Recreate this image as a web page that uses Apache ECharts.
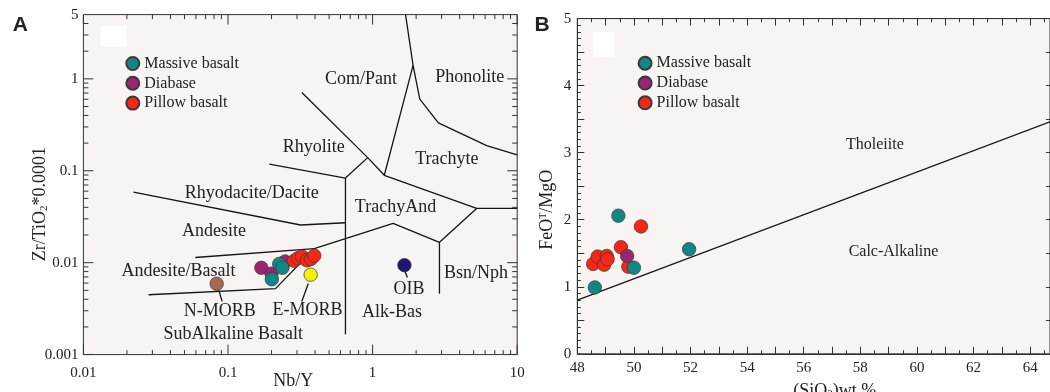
<!DOCTYPE html>
<html><head><meta charset="utf-8">
<script src="https://cdn.jsdelivr.net/npm/echarts@6/dist/echarts.min.js"></script>
<style>html,body{margin:0;padding:0;background:#fff}#c{width:1050px;height:392px}</style>
</head><body><div id="c"></div>
<script>
// ---------- Panel A: Nb/Y vs Zr/TiO2*0.0001 ----------
const massiveA = [[0.201,0.0066],[0.226,0.0097],[0.238,0.0088]];
const diabaseA = [[0.170,0.0088],[0.200,0.0076],[0.248,0.0103]];
const pillowA  = [[0.287,0.0105],[0.305,0.0112],[0.325,0.0117],[0.352,0.0106],[0.375,0.0110],[0.395,0.0119]];
const nmorbA   = [[0.0835,0.0059]];
const emorbA   = [[0.373,0.0074]];
const oibA     = [[1.66,0.0094]];
// field boundaries (Nb/Y, Zr/Ti)
const boundariesA = [
  [[0.0282,0.00448],[0.213,0.00522],[0.395,0.0142],[1.386,0.0268],[2.90,0.01667],[5.24,0.0389],[10,0.0389]],
  [[0.0594,0.01138],[0.395,0.0142]],
  [[2.90,0.01667],[2.90,0.00460]],
  [[5.24,0.0389],[1.205,0.0893],[0.925,0.139],[0.324,0.711]],
  [[1.205,0.0893],[1.905,1.40],[1.69,5]],
  [[1.905,1.40],[2.12,0.601],[2.85,0.332],[6.15,0.188],[10,0.149]],
  [[0.649,0.0833],[0.925,0.139]],
  [[0.649,0.0833],[0.649,0.00166]],
  [[0.193,0.118],[0.649,0.0833]],
  [[0.0222,0.0585],[0.318,0.0257],[0.649,0.0272]]
];
const leadersA = [
  [[0.0866,0.0050],[0.0910,0.00379]],
  [[0.359,0.00593],[0.324,0.00379]],
  [[1.66,0.00832],[1.74,0.0069]]
];
const xRangeA = [0.01, 10];
const yRangeA = [0.001, 5];
const majorTicksX = [0.01, 0.1, 1, 10];
const minorTicksX = [0.02,0.03,0.04,0.05,0.06,0.07,0.08,0.09, 0.2,0.3,0.4,0.5,0.6,0.7,0.8,0.9, 2,3,4,5,6,7,8,9];
const majorTicksY = [0.001, 0.01, 0.1, 1];
const minorTicksY = [0.002,0.003,0.004,0.005,0.006,0.007,0.008,0.009, 0.02,0.03,0.04,0.05,0.06,0.07,0.08,0.09,
                     0.2,0.3,0.4,0.5,0.6,0.7,0.8,0.9, 2,3,4];
const regionLabelsA = ['Com/Pant','Phonolite','Rhyolite','Trachyte','Rhyodacite/Dacite','TrachyAnd','Andesite',
  'Andesite/Basalt','Bsn/Nph','OIB','N-MORB','E-MORB','Alk-Bas','SubAlkaline Basalt'];

// ---------- Panel B: SiO2 vs FeOT/MgO ----------
const massiveB = [[49.45,2.06],[48.62,0.99],[50.00,1.285],[51.95,1.56]];
const diabaseB = [[49.76,1.46]];
const pillowB  = [[48.56,1.34],[48.72,1.45],[48.95,1.33],[49.04,1.46],[49.07,1.41],[49.54,1.59],[49.80,1.30],[50.25,1.90]];
const boundaryB = [[48,0.80],[64.7,3.46]];
const xRangeB = [48, 64.7];
const yRangeB = [0, 5];
const regionLabelsB = ['Tholeiite','Calc-Alkaline'];
const legendNames = ['Massive basalt','Diabase','Pillow basalt'];

const SERIF = '"Liberation Serif","Times New Roman",serif';
const C = {massive:'#138585', diabase:'#9c2570', pillow:'#f52716', nmorb:'#a8694f', emorb:'#f5f000', oib:'#21166f'};
const TICK = '#333';
const gridBoxA = {left:83.4, top:14.6, width:433.8, height:340};
const gridBoxB = {left:577.3, top:18.6, width:472.7, height:335.2};

function pts(name, data, color, xi, yi, z){
  return {type:'scatter', name, data, xAxisIndex:xi, yAxisIndex:yi, symbol:'circle', symbolSize:13.5,
    itemStyle:{color, opacity:1, borderColor:'#3a3a3a', borderWidth:0.7}, z, silent:true};
}
function lineS(data, xi, yi){
  return {type:'line', data, xAxisIndex:xi, yAxisIndex:yi, symbol:'none', silent:true, z:2,
    lineStyle:{color:'#151515', width:1.3}};
}

// Panel A tick marks: short segments drawn as line series on the log axes.
// Segment length (px) is turned into a log-space span using the axis range and grid size.
const [X0, X1] = xRangeA, [Y0, Y1] = yRangeA;
const pxPerDecX = gridBoxA.width / Math.log10(X1 / X0);
const pxPerDecY = gridBoxA.height / Math.log10(Y1 / Y0);
const fx = L => Math.pow(10, L / pxPerDecX), fy = L => Math.pow(10, L / pxPerDecY);
const tickSeriesA = [];
function tickSeg(p1, p2){
  tickSeriesA.push({type:'line', xAxisIndex:0, yAxisIndex:0, data:[p1, p2], symbol:'none', silent:true, z:3,
    lineStyle:{color:TICK, width:1}});
}
majorTicksX.forEach(v => { tickSeg([v, Y0], [v, Y0 * fy(10)]);  tickSeg([v, Y1], [v, Y1 / fy(10)]); });
minorTicksX.forEach(v => { tickSeg([v, Y0], [v, Y0 * fy(4.5)]); tickSeg([v, Y1], [v, Y1 / fy(4.5)]); });
majorTicksY.forEach(v => { tickSeg([X0, v], [X0 * fx(10), v]);  tickSeg([X1, v], [X1 / fx(10), v]); });
minorTicksY.forEach(v => { tickSeg([X0, v], [X0 * fx(5), v]);   tickSeg([X1, v], [X1 / fx(5), v]); });

const axisLabelStyle = {fontFamily:SERIF, fontSize:15, color:'#222'};
const nameStyleBase = {fontFamily:SERIF, fontSize:18, color:'#222',
  rich:{sub:{fontFamily:SERIF, fontSize:11, verticalAlign:'bottom', color:'#222'},
        sup:{fontFamily:SERIF, fontSize:10, verticalAlign:'top', color:'#222'}}};

const gridStyle = {show:true, backgroundColor:'#f8f4f4', borderColor:'#333', borderWidth:1,
  containLabel:false, outerBoundsMode:'none'};

function logAxis(grid, range, position, extra){
  const a = {gridIndex:grid, type:'log', logBase:10, min:range[0], max:range[1],
    axisLine:{show:false, onZero:false}, splitLine:{show:false}, minorSplitLine:{show:false},
    axisTick:{show:false}, axisLabel:{show:false}};
  if (position) a.position = position;
  return Object.assign(a, extra || {});
}

const option = {
  animation:false,
  backgroundColor:'#fff',
  grid:[Object.assign({}, gridBoxA, gridStyle), Object.assign({}, gridBoxB, gridStyle)],
  legend:[
    {data:legendNames, orient:'vertical', left:125.3, top:55.5, padding:0, itemGap:3.8, itemWidth:13, itemHeight:13,
     icon:'circle', selectedMode:false, textStyle:{fontFamily:SERIF, fontSize:16, color:'#222'}},
    {data:legendNames, orient:'vertical', left:637.6, top:55.2, padding:0, itemGap:3.8, itemWidth:13, itemHeight:13,
     icon:'circle', selectedMode:false, textStyle:{fontFamily:SERIF, fontSize:16, color:'#222'}}
  ],
  xAxis:[
    logAxis(0, xRangeA, null, {
      axisLabel:Object.assign({show:true, margin:11}, axisLabelStyle),
      name:'Nb/Y', nameLocation:'middle', nameGap:18, nameMoveOverlap:false,
      nameTextStyle:Object.assign({padding:[0,14,0,0]}, nameStyleBase)}),
    {gridIndex:1, type:'value', min:xRangeB[0], max:xRangeB[1], interval:1,
     axisLine:{show:true, onZero:false, lineStyle:{color:'#333', width:1}},
     axisTick:{show:true, inside:true, length:7, lineStyle:{color:TICK}},
     minorTick:{show:true, splitNumber:2, length:3.5, lineStyle:{color:TICK}},
     splitLine:{show:false}, minorSplitLine:{show:false},
     axisLabel:Object.assign({margin:7, showMaxLabel:false, formatter:v => (Math.abs(v % 2) < 1e-9 ? String(v) : '')}, axisLabelStyle),
     name:'(SiO{sub|2})wt.%', nameLocation:'middle', nameGap:28, nameMoveOverlap:false,
     nameTextStyle:Object.assign({padding:[0,0,0,42]}, nameStyleBase)},
    {gridIndex:1, type:'value', position:'top', min:xRangeB[0], max:xRangeB[1], interval:1,
     axisLine:{show:true, onZero:false, lineStyle:{color:'#333', width:1}},
     axisTick:{show:true, inside:true, length:7, lineStyle:{color:TICK}},
     minorTick:{show:true, splitNumber:2, length:3.5, lineStyle:{color:TICK}},
     splitLine:{show:false}, axisLabel:{show:false}}
  ],
  yAxis:[
    logAxis(0, yRangeA, null, {
      axisLabel:Object.assign({show:true, margin:5}, axisLabelStyle),
      name:'Zr/TiO{sub|2}*0.0001', nameLocation:'middle', nameGap:34, nameMoveOverlap:false,
      nameTextStyle:Object.assign({padding:[0,39,0,0]}, nameStyleBase)}),
    {gridIndex:1, type:'value', min:yRangeB[0], max:yRangeB[1], interval:0.5,
     axisLine:{show:true, onZero:false, lineStyle:{color:'#333', width:1}},
     axisTick:{show:true, inside:true, length:7, lineStyle:{color:TICK}},
     minorTick:{show:true, splitNumber:5, length:3.5, lineStyle:{color:TICK}},
     splitLine:{show:false}, minorSplitLine:{show:false},
     axisLabel:Object.assign({margin:6, formatter:v => (Math.abs(v % 1) < 1e-9 ? String(v) : '')}, axisLabelStyle),
     name:'FeO{sup|T}/MgO', nameLocation:'middle', nameGap:21, nameMoveOverlap:false,
     nameTextStyle:Object.assign({padding:[0,47,0,0]}, nameStyleBase)},
    {gridIndex:1, type:'value', position:'right', min:yRangeB[0], max:yRangeB[1], interval:0.5,
     axisLine:{show:true, onZero:false, lineStyle:{color:'#333', width:1}},
     axisTick:{show:true, inside:true, length:4, lineStyle:{color:TICK}},
     splitLine:{show:false}, axisLabel:{show:false}}
  ],
  series:[
    ...tickSeriesA,
    ...boundariesA.map(p => lineS(p,0,0)),
    ...leadersA.map(p => lineS(p,0,0)),
    pts('Diabase', diabaseA, C.diabase, 0, 0, 5),
    pts('Massive basalt', massiveA, C.massive, 0, 0, 6),
    pts('Pillow basalt', pillowA, C.pillow, 0, 0, 7),
    pts('N-MORB', nmorbA, C.nmorb, 0, 0, 7),
    pts('E-MORB', emorbA, C.emorb, 0, 0, 7),
    pts('OIB', oibA, C.oib, 0, 0, 7),
    lineS(boundaryB, 1, 1),
    pts('Pillow basalt', pillowB, C.pillow, 1, 1, 5),
    pts('Diabase', diabaseB, C.diabase, 1, 1, 6),
    pts('Massive basalt', massiveB, C.massive, 1, 1, 7)
  ]
};

const labelPosA = [[361,78.8],[469.8,77.1],[313.7,147.7],[446.8,159.5],[251.8,193.3],[395.5,207.2],[214,231.5],
  [178.5,271.1],[475.9,273.1],[409,289],[219.7,311.6],[307.6,310.3],[392.1,312.7],[233.2,334]];
const labelPosB = [[874.9,144.7],[893.5,251.8]];
function txt(text, x, y, font){
  return {type:'text', x, y, silent:true, z:100,
    style:{text, font, fill:'#222', align:'center', verticalAlign:'middle', textAlign:'center', textVerticalAlign:'middle'}};
}
option.graphic = [
  {type:'rect', shape:{x:100.7, y:26, width:26, height:20.7}, style:{fill:'#ffffff'}, silent:true, z:1},
  {type:'rect', shape:{x:592.7, y:32.1, width:22, height:24.7}, style:{fill:'#ffffff'}, silent:true, z:1},
  ...regionLabelsA.map((t,i) => txt(t, labelPosA[i][0], labelPosA[i][1], '18px ' + SERIF)),
  ...regionLabelsB.map((t,i) => txt(t, labelPosB[i][0], labelPosB[i][1], '16px ' + SERIF)),
  txt('A', 20.3, 25.4, 'bold 21px "Liberation Sans",Arial,sans-serif'),
  txt('B', 542, 25.4, 'bold 21px "Liberation Sans",Arial,sans-serif')
];

const chart = echarts.init(document.getElementById('c'), null, {renderer:'canvas'});
chart.setOption(option);
</script>
</body></html>
